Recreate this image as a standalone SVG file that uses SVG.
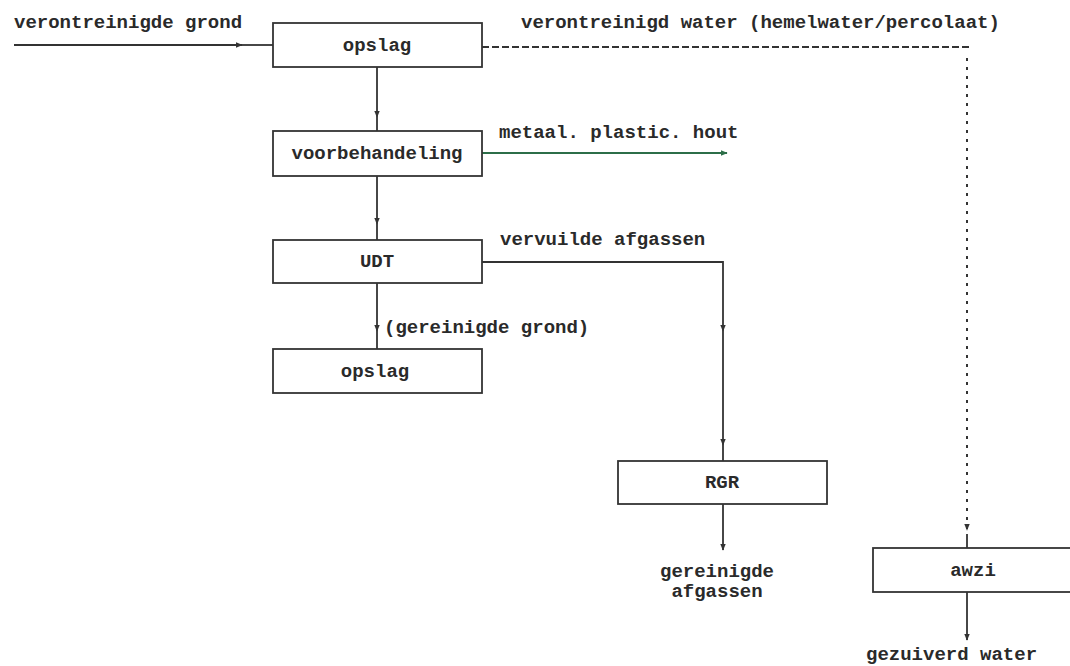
<svg xmlns="http://www.w3.org/2000/svg" width="1070" height="666" viewBox="0 0 1070 666">
<defs>
<style>
.box{fill:#fff;stroke:#333;stroke-width:1.8}
.t{font-family:"Liberation Mono","DejaVu Sans Mono",monospace;font-size:19px;font-weight:bold;fill:#2a2a2a}
.c{text-anchor:middle}
.ln{fill:none;stroke:#333;stroke-width:1.8}
.green{stroke:#2c6e48}
.dash{stroke-dasharray:7 3}
.dot{stroke-dasharray:3 6;stroke-width:2}
</style>
<marker id="ah" viewBox="0 0 10 10" refX="9" refY="5" markerWidth="7" markerHeight="7" markerUnits="userSpaceOnUse" orient="auto">
<path d="M0 1 L10 5 L0 9 Z" fill="#333"/>
</marker>
<marker id="ahg" viewBox="0 0 10 10" refX="9" refY="5" markerWidth="7" markerHeight="7" markerUnits="userSpaceOnUse" orient="auto">
<path d="M0 1 L10 5 L0 9 Z" fill="#2c6e48"/>
</marker>
</defs>
<rect width="1070" height="666" fill="#fff"/>
<g id="connectors">
<path class="ln" d="M14 45 H242" marker-end="url(#ah)"/>
<path class="ln" d="M242 45 H273"/>
<path class="ln" d="M377 67 V117" marker-end="url(#ah)"/>
<path class="ln" d="M377 117 V131"/>
<path class="ln green" d="M482 153 H727" marker-end="url(#ahg)"/>
<path class="ln" d="M377 176 V224" marker-end="url(#ah)"/>
<path class="ln" d="M377 224 V240"/>
<path class="ln" d="M377 283 V331" marker-end="url(#ah)"/>
<path class="ln" d="M377 331 V349"/>
<path class="ln" d="M482 262 H723 V331" marker-end="url(#ah)"/>
<path class="ln" d="M723 331 V445" marker-end="url(#ah)"/>
<path class="ln" d="M723 445 V461"/>
<path class="ln" d="M723 504 V550" marker-end="url(#ah)"/>
<path class="ln dash" d="M482 47 H969"/>
<path class="ln dot" d="M967 58 V530" marker-end="url(#ah)"/>
<path class="ln" d="M967 534 V548"/>
<path class="ln" d="M967 592 V640" marker-end="url(#ah)"/>
</g>
<g id="opslag1"><rect class="box" x="273" y="23" width="209" height="44"/><text class="t c" x="377" y="51">opslag</text></g>
<g id="voorbehandeling"><rect class="box" x="273" y="131" width="209" height="45"/><text class="t c" x="377" y="159">voorbehandeling</text></g>
<g id="udt"><rect class="box" x="273" y="240" width="209" height="43"/><text class="t c" x="377" y="267">UDT</text></g>
<g id="opslag2"><rect class="box" x="273" y="349" width="209" height="44"/><text class="t c" x="375" y="377">opslag</text></g>
<g id="rgr"><rect class="box" x="618" y="461" width="209" height="43"/><text class="t c" x="722" y="488">RGR</text></g>
<g id="awzi"><rect class="box" x="873" y="548" width="209" height="44"/><text class="t c" x="973" y="576">awzi</text></g>
<g id="labels">
<text class="t" x="14" y="28">verontreinigde grond</text>
<text class="t" x="521" y="28">verontreinigd water (hemelwater/percolaat)</text>
<text class="t" x="499" y="138">metaal. plastic. hout</text>
<text class="t" x="500" y="245">vervuilde afgassen</text>
<text class="t" x="384" y="333">(gereinigde grond)</text>
<text class="t c" x="717" y="577">gereinigde</text>
<text class="t c" x="717" y="597">afgassen</text>
<text class="t" x="866" y="660">gezuiverd water</text>
</g>
</svg>
